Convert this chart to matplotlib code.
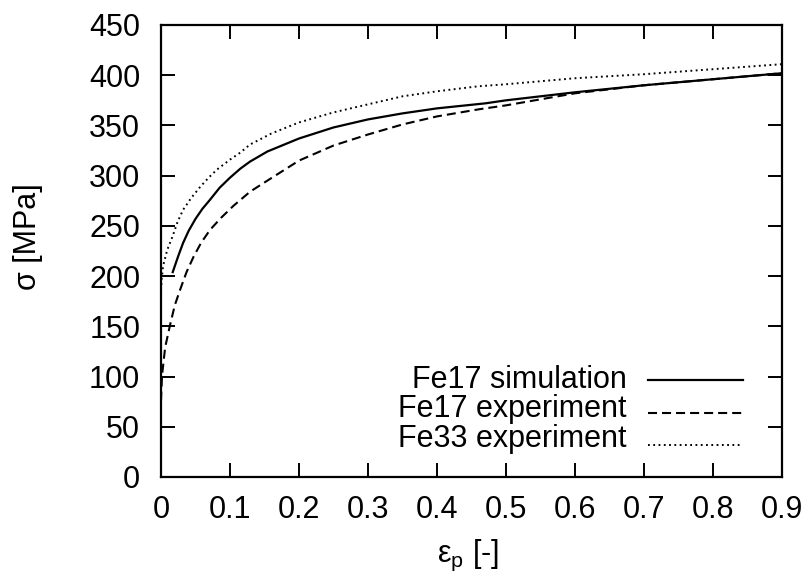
import matplotlib
matplotlib.use("Agg")
import matplotlib.pyplot as plt

# Fe17 simulation
sim_eps = [0.017, 0.025, 0.032, 0.04, 0.05, 0.06, 0.071, 0.085, 0.1, 0.115, 0.129, 0.154,
           0.2, 0.25, 0.3, 0.35, 0.4, 0.47, 0.5, 0.6, 0.7, 0.8, 0.9]
sim_sig = [204, 220, 233, 245, 257, 267, 276, 288, 298, 307, 314, 324,
           337, 348, 356, 362, 367, 372, 375, 383, 390, 396, 402]

# Fe17 experiment
exp17_eps = [0.0, 0.0015, 0.006, 0.013, 0.02, 0.028, 0.037, 0.047, 0.058, 0.071, 0.087,
             0.105, 0.129, 0.154, 0.2, 0.25, 0.3, 0.35, 0.4, 0.46, 0.5, 0.6, 0.7, 0.8, 0.9]
exp17_sig = [76, 101, 129, 151, 171, 187, 204, 219, 233, 246, 258,
             270, 284, 295, 315, 330, 341, 351, 359, 366, 370, 382, 390, 396, 402]

# Fe33 experiment
exp33_eps = [0.0, 0.001, 0.003, 0.009, 0.017, 0.024, 0.032, 0.044, 0.057, 0.069, 0.081,
             0.1, 0.115, 0.129, 0.16, 0.2, 0.25, 0.3, 0.35, 0.4, 0.46, 0.5, 0.6, 0.7, 0.8, 0.9]
exp33_sig = [186, 197, 210, 226, 240, 254, 266, 278, 289, 298, 306,
             316, 323, 331, 342, 353, 363, 371, 379, 384, 389, 391, 397, 401, 406, 411]

x_ticks = [0, 0.1, 0.2, 0.3, 0.4, 0.5, 0.6, 0.7, 0.8, 0.9]
x_tick_labels = ["0", "0.1", "0.2", "0.3", "0.4", "0.5", "0.6", "0.7", "0.8", "0.9"]
y_ticks = [0, 50, 100, 150, 200, 250, 300, 350, 400, 450]

plt.rcParams.update({
    "font.family": ["Liberation Sans", "DejaVu Sans"],
    "font.size": 22,
    "mathtext.fontset": "custom",
    "mathtext.rm": "Liberation Sans",
    "mathtext.it": "Liberation Sans:italic",
    "lines.scale_dashes": False,
})

fig = plt.figure(figsize=(8.1, 5.81), dpi=100)
ax = fig.add_axes([161 / 810, 104 / 581, 621 / 810, 452 / 581])

styles = [
    ("Fe17 simulation", sim_eps, sim_sig, {"lw": 1.6}),
    ("Fe17 experiment", exp17_eps, exp17_sig, {"lw": 1.5, "dashes": (6.5, 3.6)}),
    ("Fe33 experiment", exp33_eps, exp33_sig, {"lw": 1.4, "dashes": (1.3, 2.5)}),
]
for label, xs, ys, kw in styles:
    ax.plot(xs, ys, color="black", **kw)

ax.set_xlim(0, 0.9)
ax.set_ylim(0, 450)
ax.set_xticks(x_ticks)
ax.set_xticklabels(x_tick_labels)
ax.set_yticks(y_ticks)

ax.tick_params(direction="in", length=10, width=1.4, top=True, right=True)
ax.tick_params(axis="x", pad=13)
ax.tick_params(axis="y", pad=15)
for sp in ax.spines.values():
    sp.set_linewidth(1.6)

ax.set_xlabel(r"ε$_\mathrm{p}$ [-]")
ax.xaxis.set_label_coords(0.494, -0.135)
ax.set_ylabel("σ [MPa]")
ax.yaxis.set_label_coords(-0.19, 0.531)

# gnuplot-style key: right-aligned text, sample line to its right
text_y = [0.197, 0.133, 0.066]
line_y = [0.2146, 0.1416, 0.0708]
for (label, _, _, kw), ty, ly in zip(styles, text_y, line_y):
    ax.text(0.750, ty, label, transform=ax.transAxes, ha="right", va="baseline")
    ax.plot([0.784, 0.937], [ly, ly], transform=ax.transAxes, color="black", **kw)

fig.savefig("out.png", dpi=100)
